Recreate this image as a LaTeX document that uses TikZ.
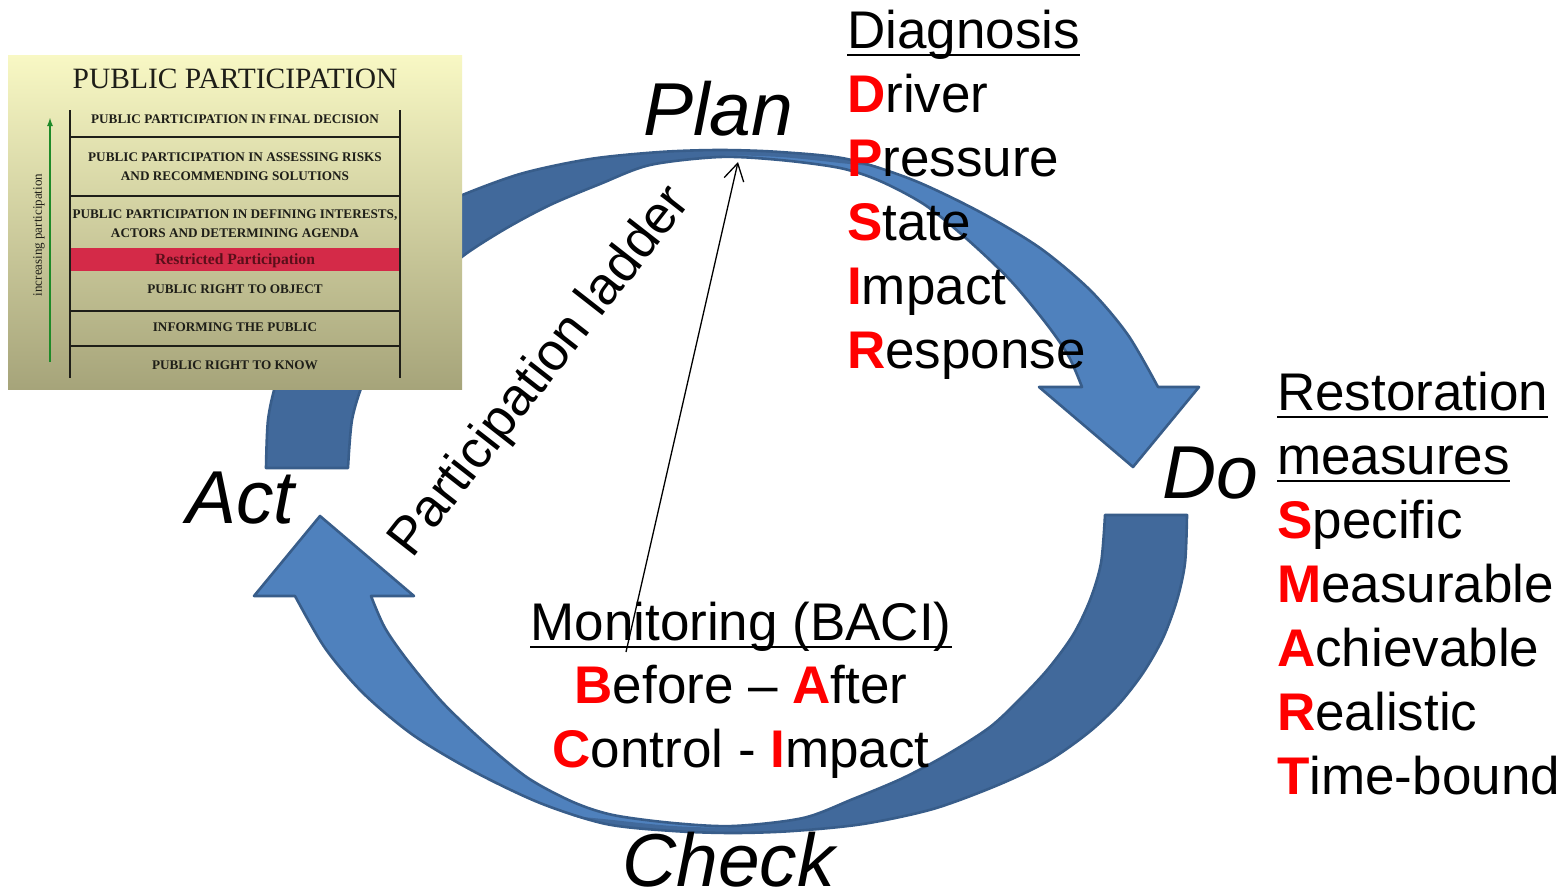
\documentclass[tikz,border=0pt]{standalone}
\usepackage{fontspec}
\setmainfont{Liberation Sans}
\newfontfamily\timesfont{Liberation Serif}
\usetikzlibrary{arrows.meta}

\definecolor{arrowlight}{HTML}{4F81BD}
\definecolor{arrowdark}{HTML}{41699B}
\definecolor{arrowline}{HTML}{385D8A}
\definecolor{keyred}{HTML}{FF0000}
\definecolor{paneltop}{HTML}{F8F8C4}
\definecolor{panelmid}{HTML}{E0DFAD}
\definecolor{panelbot}{HTML}{A6A47A}
\definecolor{bandred}{HTML}{D42A48}
\definecolor{bandink}{HTML}{5A0F1A}
\definecolor{ladderink}{HTML}{1E1E18}
\definecolor{ladderarrow}{HTML}{1E8A28}

\newcommand{\fs}[1]{\fontsize{#1}{#1}\selectfont}
\newcommand{\key}[1]{{\bfseries\color{keyred}#1}}

% one half of the cycle: a curved ribbon arrow, tail on the left, head on the right
\newcommand{\cyclearrow}{%
  \fill[arrowlight]
    plot[smooth] coordinates {(266,468) (268,420) (276,383) (290,345) (310,310) (335,278) (365,250) (405,222) (455,198) (520,174) (590,159) (660,152) (720,150) (780,152) (847,159) (913,180) (980,212) (1040,248) (1090,290) (1128,335) (1158,387)}
    -- (1199,387) -- (1133,467) -- (1039,387)
    -- plot[smooth] coordinates {(1082,387) (1068,355) (1045,322) (1010,280) (968,240) (925,205) (880,181) (840,168) (780,160) (720,157) (650,165) (600,184) (550,205) (505,229) (463,256) (433,284) (405,314) (380,348) (363,383) (352,420) (348,468)}
    -- cycle;
  % back face of the ribbon, visible up to the twist at the top
  \fill[arrowdark]
    plot[smooth] coordinates {(266,468) (268,420) (276,383) (290,345) (310,310) (335,278) (365,250) (405,222) (455,198) (520,174) (590,159) (660,152) (720,150) (780,152) (847,159) (880,167)}
    -- plot[smooth] coordinates {(840,163) (780,157) (720,156) (650,165) (600,184) (550,205) (505,229) (463,256) (433,284) (405,314) (380,348) (363,383) (352,420) (348,468)}
    -- cycle;
  \draw[arrowline, line width=2.6pt, line join=round]
    plot[smooth] coordinates {(266,468) (268,420) (276,383) (290,345) (310,310) (335,278) (365,250) (405,222) (455,198) (520,174) (590,159) (660,152) (720,150) (780,152) (847,159) (913,180) (980,212) (1040,248) (1090,290) (1128,335) (1158,387)}
    -- (1199,387) -- (1133,467) -- (1039,387)
    -- plot[smooth] coordinates {(1082,387) (1068,355) (1045,322) (1010,280) (968,240) (925,205) (880,181) (840,168) (780,160) (720,157) (650,165) (600,184) (550,205) (505,229) (463,256) (433,284) (405,314) (380,348) (363,383) (352,420) (348,468)}
    -- cycle;
}

\begin{document}
\begin{tikzpicture}[x=1pt, y=-1pt,
  txt/.style={inner sep=0pt, anchor=base west, font=\fs{53}},
  ctxt/.style={inner sep=0pt, anchor=base, font=\fs{53}},
  stage/.style={inner sep=0pt, anchor=base west, font=\fs{75}\itshape},
  ul/.style={line width=2.8pt},
  rung/.style={ladderink, line width=2.8pt},
  rowtxt/.style={inner sep=0pt, anchor=base, text=ladderink, font=\timesfont\bfseries\fs{13.2}}]

\useasboundingbox (0,0) rectangle (1565,889);
\fill[white] (0,0) rectangle (1565,889);

% PDCA cycle arrows
\cyclearrow
\begin{scope}[rotate around={180:(726.5,491.5)}]
  \cyclearrow
\end{scope}

% public participation ladder panel
\node[name=panel, inner sep=0pt, minimum width=454pt, minimum height=334pt,
      top color=paneltop, middle color=panelmid, bottom color=panelbot] at (235,222) {};
\node[name=ptitle, inner sep=0pt, anchor=base, text=ladderink, font=\timesfont\fs{29.5}] at (235,88) {PUBLIC PARTICIPATION};
\fill[bandred] (71,248) rectangle (400,271);
\draw[rung] (70,110) -- (70,378);
\draw[rung] (400,110) -- (400,378);
\draw[rung] (70,137) -- (400,137);
\draw[rung] (70,196) -- (400,196);
\draw[rung] (70,311) -- (400,311);
\draw[rung] (70,346) -- (400,346);
\node[rowtxt, name=r1] at (235,123) {PUBLIC PARTICIPATION IN FINAL DECISION};
\node[rowtxt, name=r2a] at (235,161) {PUBLIC PARTICIPATION IN ASSESSING RISKS};
\node[rowtxt, name=r2b] at (235,180) {AND RECOMMENDING SOLUTIONS};
\node[rowtxt, name=r3a] at (235,218) {PUBLIC PARTICIPATION IN DEFINING INTERESTS,};
\node[rowtxt, name=r3b] at (235,237) {ACTORS AND DETERMINING AGENDA};
\node[rowtxt, name=r4, text=bandink, font=\timesfont\bfseries\fs{15.6}] at (235,264) {Restricted Participation};
\node[rowtxt, name=r5] at (235,293) {PUBLIC RIGHT TO OBJECT};
\node[rowtxt, name=r6] at (235,331) {INFORMING THE PUBLIC};
\node[rowtxt, name=r7] at (235,369) {PUBLIC RIGHT TO KNOW};
\coordinate (gfoot) at (50,362);
\coordinate (gtip) at (50,117);
\draw[ladderarrow, line width=1.8pt, -{Latex[length=9pt,width=6pt]}] (gfoot) -- (gtip);
\node[name=incr, inner sep=0pt, rotate=90, text=ladderink, font=\timesfont\fs{13}] at (39,235) {increasing participation};

% stage names
\node[stage, name=plan] at (643,135) {Plan};
\node[stage, name=do] at (1162,498) {Do};
\node[stage, name=act] at (186,523) {Act};
\node[stage, name=check] at (622,886) {Check};

% DPSIR list
\node[txt, name=diag] at (847,48) {Diagnosis};
\draw[ul] ([yshift=-7pt]diag.base west) -- ([yshift=-7pt]diag.base east);
\node[txt, name=dpsir1] at (847,112) {\key{D}river};
\node[txt, name=dpsir2] at (847,176) {\key{P}ressure};
\node[txt, name=dpsir3] at (847,240) {\key{S}tate};
\node[txt, name=dpsir4] at (847,304) {\key{I}mpact};
\node[txt, name=dpsir5] at (847,368) {\key{R}esponse};

% SMART list
\node[txt, name=rest1] at (1277,410) {Restoration};
\draw[ul] ([yshift=-7pt]rest1.base west) -- ([yshift=-7pt]rest1.base east);
\node[txt, name=rest2] at (1277,474) {measures};
\draw[ul] ([yshift=-7pt]rest2.base west) -- ([yshift=-7pt]rest2.base east);
\node[txt, name=smart1] at (1277,538) {\key{S}pecific};
\node[txt, name=smart2] at (1277,602) {\key{M}easurable};
\node[txt, name=smart3] at (1277,666) {\key{A}chievable};
\node[txt, name=smart4] at (1277,730) {\key{R}ealistic};
\node[txt, name=smart5] at (1277,794) {\key{T}ime-bound};

% BACI monitoring
\node[ctxt, name=mon] at (741,640) {Monitoring (BACI)};
\draw[ul] ([yshift=-7pt]mon.base west) -- ([yshift=-7pt]mon.base east);
\node[ctxt, name=baci1] at (741,703) {\key{B}efore -- \key{A}fter};
\node[ctxt, name=baci2] at (741,767) {\key{C}ontrol - \key{I}mpact};

% participation ladder label and pointer
\node[txt, name=ladder, rotate=52] at (412,560) {Participation ladder};
\coordinate (pfoot) at (626,652);
\coordinate (ptip) at (738,162);
\draw[line width=1.3pt, -{Straight Barb[length=17pt,width=20pt]}] (pfoot) -- (ptip);

\end{tikzpicture}
\end{document}
